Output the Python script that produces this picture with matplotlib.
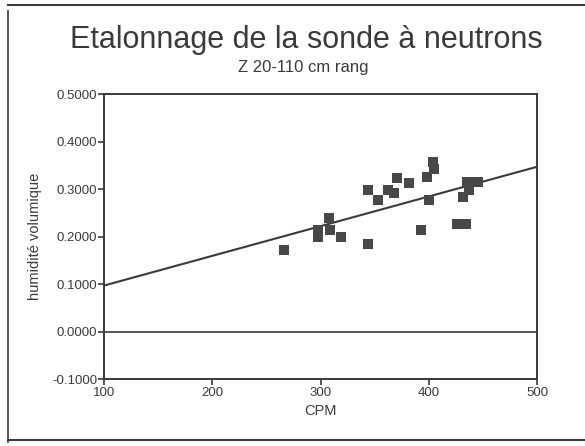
import matplotlib
matplotlib.use("Agg")
import matplotlib.pyplot as plt
from matplotlib.lines import Line2D

plt.rcParams["font.family"] = ["Liberation Sans", "DejaVu Sans"]

# CPM readings and volumetric moisture
cpm = [266, 298, 298, 308, 309, 319, 344, 344, 353, 362, 368, 371, 382, 393,
       398, 400, 404, 405, 426, 434, 432, 437, 435, 444, 445]
humidite = [0.172, 0.214, 0.200, 0.239, 0.214, 0.200, 0.185, 0.298, 0.277, 0.298,
            0.291, 0.323, 0.312, 0.214, 0.325, 0.278, 0.358, 0.342, 0.227, 0.227,
            0.284, 0.298, 0.315, 0.315, 0.316]

# calibration line y = a + b * CPM
intercept = 0.0345
slope = 0.000625
line_x = [100, 500]

x_ticks = [100, 200, 300, 400, 500]
y_ticks = [-0.1, 0.0, 0.1, 0.2, 0.3, 0.4, 0.5]

ink = "#3a3a3a"

fig = plt.figure(figsize=(5.85, 4.46), dpi=100)
ax = fig.add_axes([0.178, 0.150, 0.740, 0.639])

ax.scatter(cpm, humidite, marker="s", s=42, color="#484848", linewidths=0, zorder=3)
ax.plot(line_x, [intercept + slope * v for v in line_x], color=ink, lw=1.5)
ax.axhline(0.0, color=ink, lw=1.2)

ax.set_xlim(100, 500)
ax.set_ylim(-0.1, 0.5)
ax.set_xticks(x_ticks)
ax.set_yticks(y_ticks)
ax.set_yticklabels([f"{v:.4f}" for v in y_ticks])
ax.tick_params(direction="out", length=4, width=1.2, colors=ink, labelsize=9.5, pad=1)
ax.tick_params(axis="x", pad=2)
for sp in ax.spines.values():
    sp.set_color(ink)
    sp.set_linewidth(1.4)

ax.set_xlabel("CPM", fontsize=10.5, color=ink, labelpad=3)
ax.set_ylabel("humidité volumique", fontsize=10.5, color=ink, labelpad=7)

fig.text(0.523, 0.91, "Etalonnage de la sonde à neutrons", ha="center", va="center",
         fontsize=22, color=ink)
fig.text(0.518, 0.848, "Z 20-110 cm rang", ha="center", va="center",
         fontsize=12, color=ink)

# scanned page frame
fig.add_artist(Line2D([0.014, 0.014], [0.01, 0.975], transform=fig.transFigure, color=ink, lw=1.2))
fig.add_artist(Line2D([0.014, 1.0], [0.988, 0.988], transform=fig.transFigure, color=ink, lw=1.5))
fig.add_artist(Line2D([0.014, 1.0], [0.014, 0.014], transform=fig.transFigure, color=ink, lw=1.5))

fig.savefig("out.png", dpi=100)
